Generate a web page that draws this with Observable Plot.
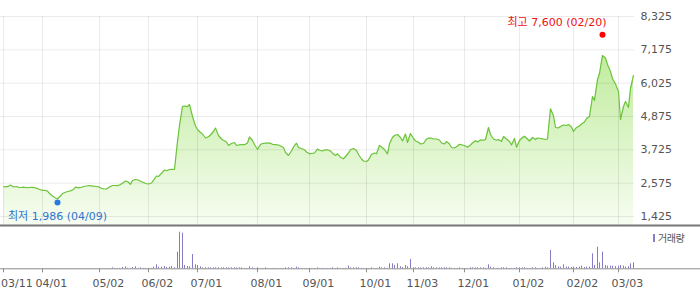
<!DOCTYPE html>
<html><head><meta charset="utf-8">
<script src="https://cdn.jsdelivr.net/npm/d3@7"></script>
<script src="https://cdn.jsdelivr.net/npm/@observablehq/plot@0.6"></script>
<style>
body{margin:0;background:#fff;}
#chart{position:relative;width:700px;height:289px;overflow:hidden;font-family:'DejaVu Sans','Noto Sans CJK KR',sans-serif;}
#chart svg{position:absolute;left:0;}
#legendBox{position:absolute;left:653px;top:234px;width:2px;height:8px;background:#8a7bc8;}
#legendText{position:absolute;left:658px;top:231px;font-size:10px;line-height:14px;color:#555;letter-spacing:-0.5px;white-space:nowrap;font-family:'Noto Sans CJK KR',sans-serif;}
</style></head>
<body><div id="chart"><span id="legendBox"></span><span id="legendText">거래량</span></div>
<script>
// trading-day index 0 = 03/11, last = 03/11 next year
const closes = [
2460,2450,2467,2512,2443,2460,2433,2425,2440,2418,
2425,2433,2418,2405,2357,2329,2329,2298,2218,2132,
2063,2036,2132,2218,2263,2298,2305,2363,2436,2415,
2433,2460,2477,2495,2481,2470,2460,2436,2398,2374,
2374,2443,2495,2495,2488,2512,2574,2650,2632,2536,
2667,2701,2684,2639,2598,2563,2546,2581,2674,2822,
2805,2915,3029,3005,3047,3053,3047,4012,4565,5220,
5237,5213,5289,4875,4547,4427,4323,4271,4133,4175,
4237,4357,4478,4220,4099,4054,3995,3875,3944,3978,
3875,3899,3909,3903,3961,4168,4047,3909,3737,3909,
3944,3954,3961,3954,3916,3903,3892,3858,3806,3633,
3530,3685,3823,3954,3806,3771,3726,3650,3588,3599,
3616,3750,3712,3685,3719,3726,3685,3609,3530,3588,
3471,3416,3495,3616,3726,3771,3702,3564,3409,3340,
3322,3374,3564,3616,3588,3875,3823,3737,3588,3933,
4151,4220,4254,4151,4030,4271,3978,4289,4116,4030,
3988,3926,3944,4099,4126,4126,4099,4099,4064,3961,
3926,4012,3926,3806,3788,3858,3916,3892,3875,3816,
3892,3961,4040,3995,4064,4057,4081,4496,4254,4099,
4054,4081,4012,4185,4099,4012,3892,4116,3816,4047,
4151,4195,4099,4030,4151,4081,4133,4116,4106,4081,
4099,5141,4900,4496,4485,4530,4582,4565,4599,4513,
4357,4496,4547,4616,4685,4806,4875,5565,5427,6152,
6359,6980,6894,6670,6428,6186,5996,5737,4771,5220,
5393,5186,5841,6290
];
// volume, thousand shares
const volumes = [
60,50,70,40,50,60,40,50,60,50,
40,50,60,50,70,60,50,80,90,90,
80,90,70,60,50,60,50,60,70,50,
50,60,40,50,60,50,40,60,50,60,
50,80,300,120,100,110,400,600,150,120,
400,600,150,300,140,120,150,130,500,1200,
500,500,700,400,500,700,300,5000,11000,10700,
1000,700,600,4300,1200,1000,600,300,300,300,
300,300,300,300,300,300,300,300,300,300,
300,300,300,120,100,600,300,110,300,100,
120,300,100,90,110,100,90,100,120,300,
300,300,110,500,300,100,90,100,110,90,
100,300,110,100,90,100,110,300,100,300,
110,120,150,800,300,300,300,300,120,100,
110,100,300,120,110,500,300,300,150,1500,
1500,1000,1500,600,400,1000,600,2800,300,300,
300,300,300,300,300,600,300,300,300,300,
300,300,300,150,120,110,300,120,100,110,
300,300,300,300,300,300,150,1200,500,300,
120,110,300,300,300,120,110,140,300,300,
300,300,120,110,300,300,120,110,300,500,
300,5500,1800,1000,600,500,1200,500,500,400,
500,400,500,800,400,500,500,4500,1000,6500,
1800,5000,1000,800,800,800,700,800,1000,800,
500,600,1500,1800
];
const tickDays = [0,15,37,56,75,98,118,140,158,178,199,220,237];
const tickLabels = ["03/11","04/01","05/02","06/02","07/01","08/01","09/01","10/01","11/03","12/01","01/02","02/02","03/03"];
const priceTicks = [1425,2575,3725,4875,6025,7175,8325];
const highPoint = [{day: 231, value: 7600, label: "최고 7,600 (02/20)"}];
const lowPoint = [{day: 21, value: 1986, label: "최저 1,986 (04/09)"}];

const rows = closes.map((c, i) => ({day: i, close: c, volume: volumes[i]}));
const xDomain = [-1.04, 243.35];
const xEdge = 270;
const yMin = 1114.5, yMax = 8325;
const font = "'DejaVu Sans','Noto Sans CJK KR',sans-serif";
const common = {
  width: 700, marginLeft: 0, marginRight: 66,
  style: {background: "transparent", overflow: "visible", fontFamily: font, fontSize: "11px"}
};
const labelOf = d => tickLabels[tickDays.indexOf(d)];

const gradient = () => {
  const defs = d3.create("svg:defs");
  const g = defs.append("linearGradient").attr("id", "areaFill")
    .attr("gradientUnits", "userSpaceOnUse").attr("x1", 0).attr("x2", 0).attr("y1", 16).attr("y2", 225);
  g.append("stop").attr("offset", "0").attr("stop-color", "#b4e88a");
  g.append("stop").attr("offset", "1").attr("stop-color", "#f7fdf2");
  return defs.node();
};

const pricePlot = Plot.plot({
  ...common, height: 227, marginTop: 16, marginBottom: 2,
  x: {type: "linear", domain: xDomain, axis: null, round: true, label: null},
  y: {domain: [yMin, yMax], axis: null, label: null},
  marks: [
    gradient,
    Plot.areaY(rows, {x: "day", y1: yMin, y2: "close", fill: "url(#areaFill)"}),
    Plot.ruleY(priceTicks, {stroke: "#000", strokeOpacity: 0.08}),
    Plot.ruleX(tickDays, {stroke: "#000", strokeOpacity: 0.08}),
    Plot.lineY(rows, {x: "day", y: "close", stroke: "#6cc33c", strokeWidth: 1.2}),
    Plot.axisY({ticks: priceTicks, anchor: "right", tickSize: 0, tickPadding: 6, tickFormat: d3.format(","), fill: "#555", label: null}),
    Plot.ruleY([yMin], {x1: xDomain[0], x2: xEdge, stroke: "#777", strokeWidth: 2}),
    Plot.dot(highPoint, {x: "day", y: "value", r: 3, fill: "#ff0000", dy: -2.7}),
    Plot.text(highPoint, {x: "day", y: "value", text: "label", textAnchor: "end", dx: 4, dy: -15.5, fill: "#f01010"}),
    Plot.dot(lowPoint, {x: "day", y: "value", r: 3, fill: "#2a7ae2", dy: 2.3}),
    Plot.text(lowPoint, {x: "day", y: "value", text: "label", textAnchor: "middle", dy: 16.3, fill: "#3074d0"})
  ]
});
pricePlot.style.top = "0px";

const volPlot = Plot.plot({
  ...common, height: 64, marginTop: 6.7, marginBottom: 20.7,
  x: {type: "linear", domain: xDomain, round: true, label: null},
  y: {domain: [0, 11000], axis: null, label: null},
  marks: [
    Plot.ruleX(rows, {x: "day", y1: 0, y2: "volume", stroke: "#8a7bc8", strokeWidth: 1}),
    Plot.ruleY([0], {x1: xDomain[0], x2: xEdge, stroke: "#8c8c8c"}),
    Plot.axisX({ticks: tickDays, tickSize: 4, fill: "none", stroke: "#8c8c8c", tickFormat: null, label: null}),
    Plot.axisX({ticks: tickDays.slice(0, 1), tickSize: 0, tickPadding: 10, tickFormat: labelOf, textAnchor: "start", dx: -2.5, fill: "#555", label: null}),
    Plot.axisX({ticks: tickDays.slice(1), tickSize: 0, tickPadding: 10, tickFormat: labelOf, textAnchor: "start", dx: -7, fill: "#555", label: null})
  ]
});
volPlot.style.top = "225px";

const chart = document.getElementById("chart");
chart.appendChild(pricePlot);
chart.appendChild(volPlot);
</script>
</body></html>
